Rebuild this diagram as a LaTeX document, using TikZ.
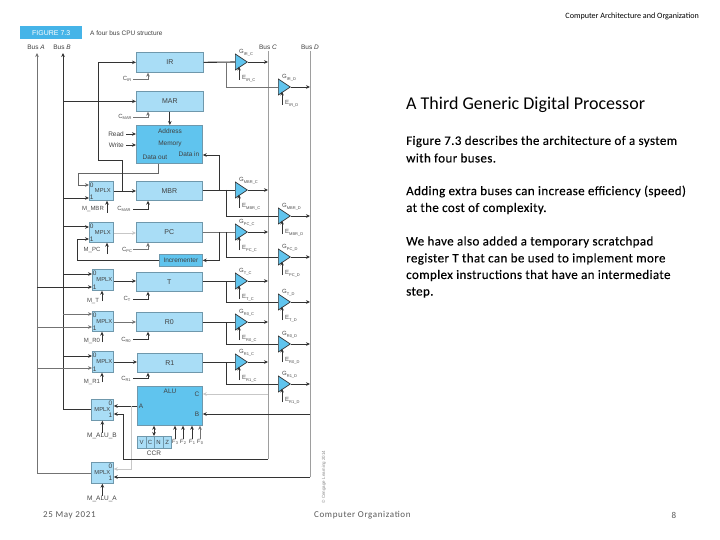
\documentclass[tikz,border=0pt]{standalone}
\usepackage{fontspec}
\setmainfont{Liberation Sans}
\newfontfamily\slidefont{Carlito}
\newfontfamily\bodyfont[LetterSpace=3,FakeBold=0.25]{Carlito}
\newfontfamily\footfont[LetterSpace=7]{Carlito}
\usetikzlibrary{arrows.meta,shapes.geometric,calc}
\definecolor{boxlight}{HTML}{A9DDF6}
\definecolor{boxstrong}{HTML}{60C4EE}
\definecolor{boxedge}{HTML}{6F98AC}
\definecolor{tagblue}{HTML}{45B4E8}
\definecolor{inkdark}{HTML}{333333}
\newcommand{\lowtxt}[2]{#1\raisebox{-1.5pt}{\fontsize{4}{4}\selectfont #2}}
\tikzset{
  x=1pt,y=-1pt,
  tip/.style={-{Stealth[length=4pt,width=3.6pt]}},
  wire/.style={draw=inkdark,line width=0.8pt,tip},
  thickwire/.style={draw=inkdark,line width=1pt,tip},
  thinwire/.style={draw=black!55,line width=0.6pt,tip},
  palewire/.style={draw=black!22,line width=0.9pt,tip},
  busline/.style={draw=black!38,line width=0.7pt},
  regbox/.style={draw=boxedge,fill=boxlight,line width=0.7pt,inner sep=0pt,anchor=north west,font=\fontsize{7}{8}\selectfont,text=black!75},
  strongbox/.style={regbox,fill=boxstrong},
  muxbox/.style={regbox,font=\fontsize{5.8}{7}\selectfont},
  lbl/.style={inner sep=0pt,font=\fontsize{6.5}{7}\selectfont,text=black!75},
  smalllbl/.style={inner sep=0pt,font=\fontsize{6}{7}\selectfont,text=black!70},
  gateshape/.style={isosceles triangle,isosceles triangle stretches=true,shape border rotate=0,minimum height=12pt,minimum width=16pt,inner sep=0pt,draw=inkdark,line width=0.7pt,fill=boxstrong,anchor=west},
  slide/.style={inner sep=0pt,anchor=west,font=\bodyfont\fontsize{13}{14}\selectfont,text=black},
}
% name, x, centre y, G text, E text
\newcommand{\gatenode}[5]{%
  \node[gateshape] (#1) at (#2,#3) {};
  \node[smalllbl,anchor=west] (#1G) at ($(#1.west)+(4,-9)$) {#4};
  \node[smalllbl,anchor=west] (#1E) at ($(#1.west)+(7,17)$) {#5};
  \coordinate (#1Etail) at ($(#1.west)+(4,18)$);
  \coordinate (#1Ehead) at ($(#1.west)+(4,4.5)$);
  \draw[wire] (#1Etail) -- (#1Ehead);
}
% name, x, top y, width, height; digits on the left
\newcommand{\muxnode}[5]{%
  \node[muxbox,minimum width=#4pt,minimum height=#5pt] (#1) at (#2,#3) {\hspace{3pt}MPLX};
  \node[lbl] (#1z) at ($(#1.north west)+(2.8,4)$) {0};
  \node[lbl] (#1o) at ($(#1.south west)+(2.8,-3)$) {1};
}
\begin{document}
\begin{tikzpicture}
\useasboundingbox (0,0) rectangle (720,540);
\fill[white] (0,0) rectangle (720,540);

% title tag
\node[fill=tagblue,inner sep=0pt,minimum width=62pt,minimum height=13pt,anchor=north west,text=white,font=\fontsize{7}{8}\selectfont] (tag) at (20,26) {FIGURE 7.3};
\node[lbl,anchor=west] (caption) at (90,33) {A four bus CPU structure};

% bus labels
\node[lbl] (labA) at (36,47) {Bus \textit{A}};
\node[lbl] (labB) at (62,47) {Bus \textit{B}};
\node[lbl] (labC) at (268,47) {Bus \textit{C}};
\node[lbl] (labD) at (310,47) {Bus \textit{D}};
\coordinate (topA) at (37,53);
\coordinate (topB) at (63,53);
\coordinate (topC) at (268,51);
\coordinate (topD) at (310,51);

% registers and memory
\node[regbox,minimum width=67pt,minimum height=20pt] (ir) at (136,52) {IR};
\node[regbox,minimum width=67pt,minimum height=20pt] (mar) at (136,91) {MAR};
\node[strongbox,minimum width=66pt,minimum height=38pt] (mem) at (136,125) {};
\node[lbl] (addr) at (170,131) {Address};
\node[lbl] (memt) at (170,144) {Memory};
\node[lbl] (dout) at (155,157) {Data out};
\node[lbl] (din) at (189,154) {Data in};
\node[regbox,minimum width=66pt,minimum height=19pt] (mbr) at (136,181) {MBR};
\node[regbox,minimum width=66pt,minimum height=20pt] (pc) at (136,222) {PC};
\node[strongbox,minimum width=43pt,minimum height=12pt,font=\fontsize{6.5}{7}\selectfont] (inc) at (159,254) {Incrementer};
\node[regbox,minimum width=66pt,minimum height=19pt] (treg) at (136,272) {T};
\node[regbox,minimum width=66pt,minimum height=19pt] (rz) at (136,312) {R0};
\node[regbox,minimum width=65pt,minimum height=19pt] (ro) at (137,353) {R1};
\node[strongbox,minimum width=65pt,minimum height=39pt] (alu) at (137,386) {};
\node[lbl] (alut) at (170,391) {ALU};
\node[lbl] (aluc) at (197,394) {C};
\node[lbl] (alua) at (141,406) {A};
\node[lbl] (alub) at (197,414) {B};

% multiplexers
\muxnode{mxm}{89}{181}{24}{19}
\muxnode{mxp}{89}{222}{24}{20}
\muxnode{mxt}{92}{269}{21}{21}
\muxnode{mxz}{92}{311}{21}{20}
\muxnode{mxo}{92}{351}{21}{21}
\node[muxbox,minimum width=22pt,minimum height=21pt] (mxb) at (91,399) {\raisebox{-2pt}{MPLX}};
\node[lbl] (mxbz) at (110.5,403) {0};
\node[lbl] (mxbo) at (110.5,415.5) {1};
\node[muxbox,minimum width=22pt,minimum height=21pt] (mxa) at (91,462) {\raisebox{-2pt}{MPLX}};
\node[lbl] (mxaz) at (110.5,466) {0};
\node[lbl] (mxao) at (110.5,478.5) {1};

% CCR
\node[regbox,minimum width=8.5pt,minimum height=12pt,font=\fontsize{6}{7}\selectfont] (cellv) at (137,436) {V};
\node[regbox,minimum width=8.5pt,minimum height=12pt,font=\fontsize{6}{7}\selectfont] (cellc) at (145.5,436) {C};
\node[regbox,minimum width=8.5pt,minimum height=12pt,font=\fontsize{6}{7}\selectfont] (celln) at (154,436) {N};
\node[regbox,minimum width=8.5pt,minimum height=12pt,font=\fontsize{6}{7}\selectfont] (cellz) at (162.5,436) {Z};
\node[lbl] (ccr) at (154,453) {CCR};
\node[smalllbl] (fa) at (175,442) {\lowtxt{\textit{F}}{3}};
\node[smalllbl] (fb) at (183,442) {\lowtxt{\textit{F}}{2}};
\node[smalllbl] (fc) at (192,442) {\lowtxt{\textit{F}}{1}};
\node[smalllbl] (fd) at (200,442) {\lowtxt{\textit{F}}{0}};
\foreach \f in {fa,fb,fc} \draw[wire,line width=0.6pt] (\f.north) -- (\f.north |- alu.south);
\draw[thinwire] (fd.north) -- (fd.north |- alu.south);
\draw[draw=inkdark,line width=0.8pt,{Stealth[length=4pt,width=3.6pt]}-{Stealth[length=4pt,width=3.6pt]}] (celln.north west |- alu.south) -- (celln.north west);

% gates: C bus column and D bus column
\gatenode{gic}{235}{62}{\lowtxt{G}{IR\_C}}{\lowtxt{E}{IR\_C}}
\gatenode{gid}{278}{87}{\lowtxt{G}{IR\_D}}{\lowtxt{E}{IR\_D}}
\gatenode{gmc}{235}{190}{\lowtxt{G}{MBR\_C}}{\lowtxt{E}{MBR\_C}}
\gatenode{gmd}{278}{216}{\lowtxt{G}{MBR\_D}}{\lowtxt{E}{MBR\_D}}
\gatenode{gpc}{235}{232}{\lowtxt{G}{PC\_C}}{\lowtxt{E}{PC\_C}}
\gatenode{gpd}{278}{257}{\lowtxt{G}{PC\_D}}{\lowtxt{E}{PC\_D}}
\gatenode{gtc}{235}{281}{\lowtxt{G}{T\_C}}{\lowtxt{E}{T\_C}}
\gatenode{gtd}{278}{302}{\lowtxt{G}{T\_D}}{\lowtxt{E}{T\_D}}
\gatenode{gzc}{235}{322}{\lowtxt{G}{R0\_C}}{\lowtxt{E}{R0\_C}}
\gatenode{gzd}{278}{344}{\lowtxt{G}{R0\_D}}{\lowtxt{E}{R0\_D}}
\gatenode{goc}{235}{362}{\lowtxt{G}{R1\_C}}{\lowtxt{E}{R1\_C}}
\gatenode{god}{278}{384}{\lowtxt{G}{R1\_D}}{\lowtxt{E}{R1\_D}}

% buses
\coordinate (busC) at (268,100);
\coordinate (busD) at (310,100);
\coordinate (busA) at (37,100);
\coordinate (busB) at (63,100);
\draw[busline] (topC) -- (busC |- 0,459);
\draw[busline] (topD) -- (busD |- 0,477);
\draw[thinwire] (mxa.west) -| (topA);
\draw[thickwire] (mxb.west) -| (topB);

% bus C and D gate outputs
\foreach \g in {gic,gmc,gpc,gtc,gzc,goc} \draw[wire] (\g.apex) -- (busC |- \g.apex);
\foreach \g in {gid,gmd,gpd,gtd,gzd,god} \draw[wire] (\g.apex) -- (busD |- \g.apex);

% register outputs to gates
\draw[draw=inkdark,line width=1.1pt] (ir.east) -- (gic.west);
\draw[draw=black!55,line width=0.6pt] (226,62) |- (gid.west);
\draw[draw=inkdark,line width=0.8pt] (mbr.east |- gmc.west) -- (gmc.west);
\draw[draw=black!55,line width=0.7pt] (pc.east |- gpc.west) -- (gpc.west);
\draw[draw=inkdark,line width=0.8pt] (treg.east |- gtc.west) -- (gtc.west);
\draw[draw=inkdark,line width=0.8pt] (rz.east |- gzc.west) -- (gzc.west);
\draw[draw=inkdark,line width=0.8pt] (ro.east |- goc.west) -- (goc.west);
\foreach \c/\d in {gmc/gmd,gpc/gpd,gtc/gtd,gzc/gzd,goc/god}
  \draw[draw=inkdark,line width=0.7pt] (226,0 |- \c.west) |- (\d.west);

% MBR <-> memory, incrementer
\draw[wire] (219,190) |- (mem.east |- 0,155);
\draw[wire] (219,232) |- (inc.east);
\draw[draw=inkdark,line width=1pt] (inc.west) -| (77,250) coordinate (incup);
\draw[wire] (incup) |- (mxp.west |- 0,239);
\draw[draw=black!60,line width=0.9pt,tip] (mem.south -| 158,0) |- (78,173) |- (mxm.west |- 0,185);

% IR / MAR inputs
\draw[thickwire] (122,191) |- (98,161) |- (ir.west);
\draw[wire] (busB |- mar.west) -- (mar.west);
\draw[wire] (mar.south) -- (mem.north -| mar.south);

% clocks
\node[smalllbl] (cir) at (127,79) {\lowtxt{C}{IR}};
\node[smalllbl] (cmar) at (125,117) {\lowtxt{C}{MAR}};
\node[smalllbl] (cmbr) at (124,209) {\lowtxt{C}{MAR}};
\node[smalllbl] (cpc) at (127,250) {\lowtxt{C}{PC}};
\node[smalllbl] (ct) at (127,299) {\lowtxt{C}{T}};
\node[smalllbl] (clkz) at (126,340) {\lowtxt{C}{R0}};
\node[smalllbl] (clko) at (126,379) {\lowtxt{C}{R1}};
\draw[draw=black!55,line width=0.6pt,tip] (133,79) -| (ir.south -| 148,0);
\draw[draw=black!55,line width=0.6pt,tip] (133,117) -| (mar.south -| 148,0);
\draw[wire] (133,209) -| (mbr.south -| 148,0);
\draw[thinwire] (133,249) -| (pc.south -| 148,0);
\draw[wire] (133,299) -| (treg.south -| 148,0);
\draw[wire] (133,339) -| (rz.south -| 148,0);
\draw[wire] (133,378) -| (ro.south -| 148,0);

% read/write
\node[lbl,anchor=east] (rd) at (124,134) {Read};
\node[lbl,anchor=east] (wr) at (124,145) {Write};
\draw[wire] (rd.east -| 126,0) -- (mem.west |- rd.east);
\draw[wire] (wr.east -| 126,0) -- (mem.west |- wr.east);

% mux inputs
\draw[wire] (busB |- 0,198) -- (mxm.west |- 0,198);
\draw[thickwire] (busB |- 0,227) -- (mxp.west |- 0,227);
\draw[wire] (busB |- 0,274) -- (mxt.west |- 0,274);
\draw[wire] (busA |- 0,287) -- (mxt.west |- 0,287);
\draw[thinwire] (busB |- 0,314) -- (mxz.west |- 0,314);
\draw[thinwire] (busA |- 0,327) -- (mxz.west |- 0,327);
\draw[wire] (busB |- 0,356) -- (mxo.west |- 0,356);
\draw[thinwire] (busA |- 0,368) -- (mxo.west |- 0,368);

% mux outputs
\draw[wire] (mxm.east |- 0,191) -- (mbr.west |- 0,191);
\draw[palewire] (mxp.east |- 0,233) -- (pc.west |- 0,233);
\draw[wire] (mxt.east |- 0,281) -- (treg.west |- 0,281);
\draw[thinwire] (mxz.east |- 0,322) -- (rz.west |- 0,322);
\draw[wire] (mxo.east |- 0,362) -- (ro.west |- 0,362);

% mux selects
\node[smalllbl] (sm) at (93,209) {M\_MBR};
\node[smalllbl] (sp) at (92,250) {M\_PC};
\node[smalllbl] (st) at (93,301) {M\_T};
\node[smalllbl] (sz) at (92,341) {M\_R0};
\node[smalllbl] (so) at (92,382) {M\_R1};
\node[lbl] (sb) at (102,436) {M\_ALU\_B};
\node[lbl] (sa) at (102,499) {M\_ALU\_A};
\draw[wire,line width=0.6pt] (107,213) -- (107,0 |- mxm.south);
\draw[wire,line width=0.6pt] (107,254) -- (107,0 |- mxp.south);
\draw[wire,line width=0.6pt] (102,301) -- (102,0 |- mxt.south);
\draw[wire,line width=0.6pt] (102,342) -- (102,0 |- mxz.south);
\draw[wire,line width=0.6pt] (102,382) -- (102,0 |- mxo.south);
\draw[wire,line width=0.6pt] (sb.north -| mxb.south) -- (mxb.south);
\draw[wire,line width=0.6pt] (sa.north -| mxa.south) -- (mxa.south);

% ALU connections
\draw[wire] (alu.west |- 0,406) -- (mxb.east |- 0,406);
\draw[palewire] (131,406) |- (mxa.east |- 0,469);
\draw[wire] (busC |- 0,459) -| (123,414) -- (mxb.east |- 0,414);
\draw[wire] (busD |- 0,477) -- (mxa.east |- 0,477);
\draw[palewire] (busC |- aluc) -- (alu.east |- aluc);
\draw[wire] (busD |- alub) -- (alu.east |- alub);

% copyright
\node[inner sep=0pt,rotate=90,text=black!45,font=\fontsize{4.5}{5}\selectfont] (copy) at (324,477) {© Cengage Learning 2014};

% slide text
\node[inner sep=0pt,anchor=east,font=\slidefont\fontsize{8.1}{9}\selectfont,text=black] (hdr) at (699,16.5) {Computer Architecture and Organization};
\node[slide,font=\slidefont\fontsize{18}{20}\selectfont] (title) at (406,105) {A Third Generic Digital Processor};
\node[slide] (l1) at (406,141.5) {Figure 7.3 describes the architecture of a system};
\node[slide] (l2) at (406,158) {with four buses.};
\node[slide] (l3) at (406,191.5) {Adding extra buses can increase efficiency (speed)};
\node[slide] (l4) at (406,208.5) {at the cost of complexity.};
\node[slide] (l5) at (406,242) {We have also added a temporary scratchpad};
\node[slide] (l6) at (406,259) {register T that can be used to implement more};
\node[slide] (l7) at (406,275.5) {complex instructions that have an intermediate};
\node[slide] (l8) at (406,292.5) {step.};
\node[inner sep=0pt,anchor=west,font=\footfont\fontsize{9}{10}\selectfont,text=black!65] (fdate) at (43,515) {25 May 2021};
\node[inner sep=0pt,anchor=west,font=\footfont\fontsize{9}{10}\selectfont,text=black!65] (fname) at (314,515) {Computer Organization};
\node[inner sep=0pt,font=\footfont\fontsize{9}{10}\selectfont,text=black!65] (fnum) at (674,515) {8};
\end{tikzpicture}
\end{document}
